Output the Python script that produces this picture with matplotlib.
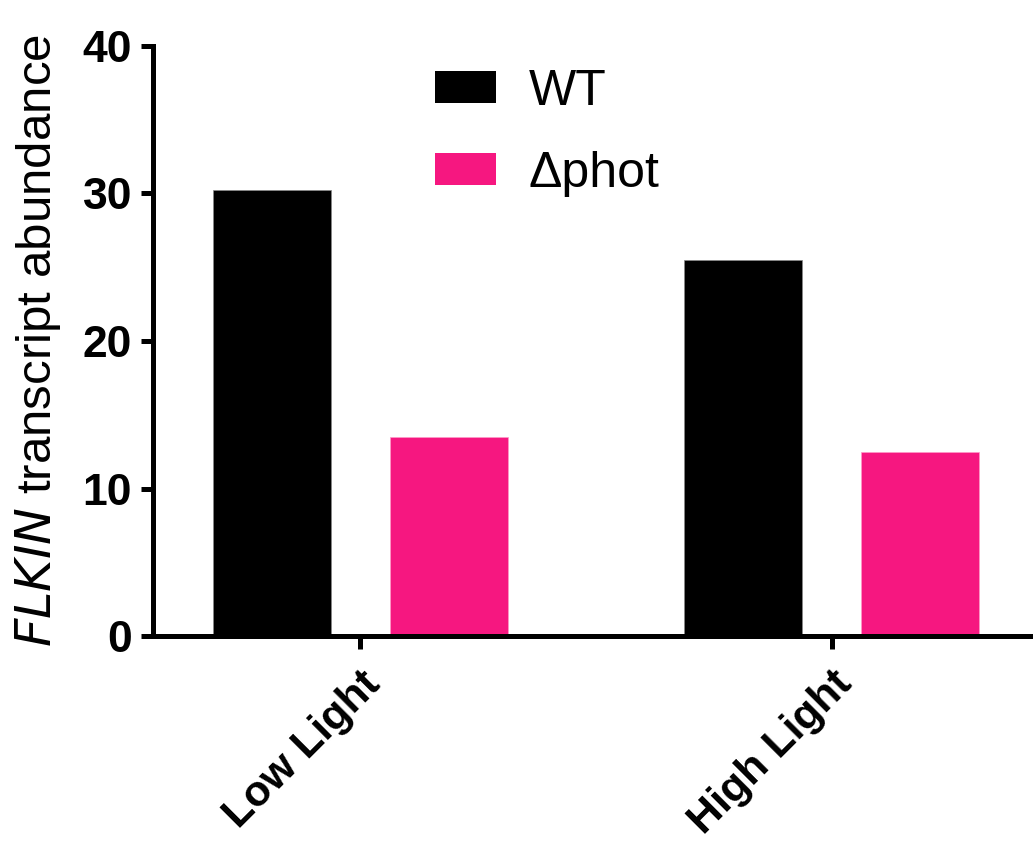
import matplotlib.pyplot as plt
from matplotlib.patches import Patch
import numpy as np

plt.rcParams["font.family"] = ["Liberation Sans", "DejaVu Sans"]

conditions = ["Low Light", "High Light"]
series = ["WT", "\u0394phot"]
wt_values = [30.2, 25.5]
phot_values = [13.5, 12.5]
colors = ["#000000", "#F61780"]

fig = plt.figure(figsize=(10.33, 8.46), dpi=100)
ax = fig.add_axes([0.148, 0.248, 0.852, 0.698])

x = np.arange(len(conditions))
width = 0.25
offset = 0.1875
ax.bar(x - offset, wt_values, width, color=colors[0], edgecolor="#888888", linewidth=0.5)
ax.bar(x + offset, phot_values, width, color=colors[1], edgecolor="#ff9ac8", linewidth=0.5)

ax.set_xlim(-0.439, 1.426)
ax.set_ylim(0, 40)
ax.set_yticks([0, 10, 20, 30, 40])
ax.set_xticks(x)
ax.set_xticklabels(conditions, rotation=45, ha="right", rotation_mode="anchor",
                   fontsize=31, fontweight="bold")
for lab in ax.get_yticklabels():
    lab.set_fontsize(32)
    lab.set_fontweight("bold")

for side in ["top", "right"]:
    ax.spines[side].set_visible(False)
for side in ["left", "bottom"]:
    ax.spines[side].set_linewidth(3.6)
ax.tick_params(axis="both", width=3.6, length=9, pad=6)
ax.tick_params(axis="x", pad=11)

ax.set_ylabel(r"$\it{FLKIN}$ transcript abundance", fontsize=35.5, labelpad=14)

handles = [Patch(facecolor=c) for c in colors]
fig.legend(handles, series, loc="upper left", bbox_to_anchor=(0.378, 0.972),
           frameon=False, fontsize=36, handlelength=1.22, handleheight=0.6,
           labelspacing=0.72, handletextpad=0.64)

fig.savefig("out.png", dpi=100)
